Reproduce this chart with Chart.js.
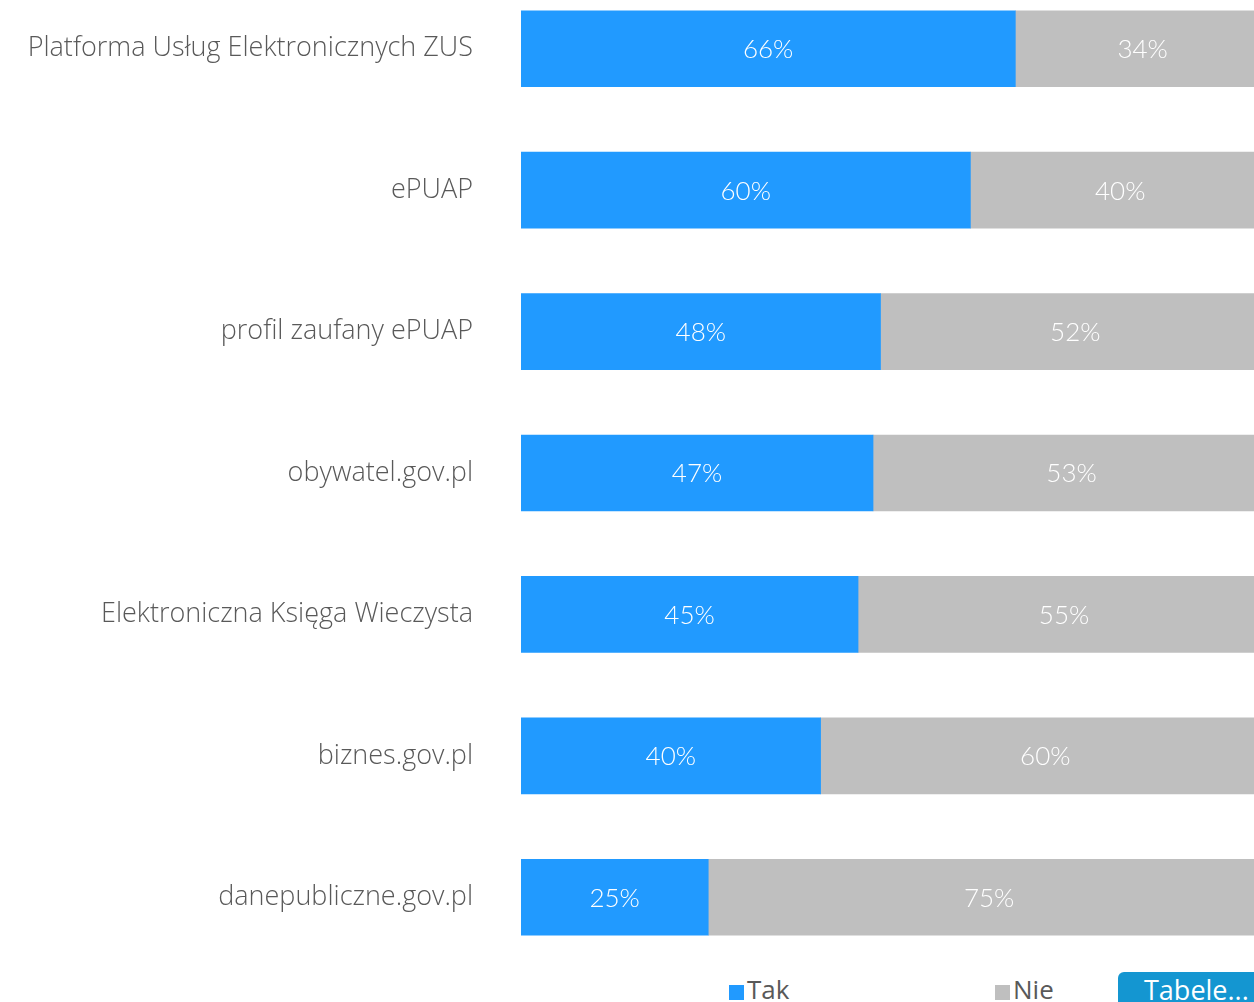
<!DOCTYPE html>
<html>
<head>
<meta charset="utf-8">
<script src="https://cdn.jsdelivr.net/npm/chart.js@4"></script>
<style>
  html, body { margin: 0; padding: 0; width: 1254px; height: 1002px; overflow: hidden; background: #fff; }
  #wrap { position: absolute; left: 0; top: -22px; width: 1270px; height: 990px; }
  #legend { position: absolute; top: 971px; left: 0; width: 1254px; height: 30px; font-family: "Open Sans", Lato, sans-serif; font-size: 26px; color: #595959; }
  .lg { position: absolute; top: 0; display: flex; align-items: center; white-space: nowrap; }
  .lg .sw { width: 15px; height: 15px; margin-right: 3px; margin-top: 6px; }
  #tabele { position: absolute; left: 1118px; top: 972px; width: 150px; height: 40px; background: #1496D1; border-radius: 6px 6px 0 0; color: #fff; font-family: "Open Sans", Lato, sans-serif; font-size: 27px; padding-left: 26px; box-sizing: border-box; line-height: 36px; }
</style>
</head>
<body>
<div id="wrap"><canvas id="c"></canvas></div>
<div id="legend"></div>
<div id="tabele">Tabele...</div>
<script>
const categories = [
  'Platforma Usług Elektronicznych ZUS',
  'ePUAP',
  'profil zaufany ePUAP',
  'obywatel.gov.pl',
  'Elektroniczna Księga Wieczysta',
  'biznes.gov.pl',
  'danepubliczne.gov.pl'
];
const seriesNames = ['Tak', 'Nie'];
const takValues = [66, 60, 48, 47, 45, 40, 25];
const nieValues = [34, 40, 52, 53, 55, 60, 75];
const seriesColors = ['#219AFF', '#BFBFBF'];
const legendX = [729, 995];

const LABEL_FONT = '"Open Sans", Lato, sans-serif';
const VALUE_FONT = 'Lato, "Open Sans", sans-serif';

const barLabels = {
  id: 'barLabels',
  afterDatasetsDraw(chart) {
    const ctx = chart.ctx;
    ctx.save();
    ctx.fillStyle = '#FFFFFF';
    ctx.font = '300 26px ' + VALUE_FONT;
    ctx.textAlign = 'center';
    ctx.textBaseline = 'middle';
    chart.data.datasets.forEach((ds, di) => {
      const meta = chart.getDatasetMeta(di);
      meta.data.forEach((el, i) => {
        const cx = (el.x + el.base) / 2;
        ctx.fillText(ds.data[i] + '%', cx, el.y + 1);
      });
    });
    ctx.restore();
  }
};

const chart = new Chart(document.getElementById('c'), {
  type: 'bar',
  data: {
    labels: categories,
    datasets: [
      { label: seriesNames[0], data: takValues, backgroundColor: seriesColors[0], borderWidth: 0 },
      { label: seriesNames[1], data: nieValues, backgroundColor: seriesColors[1], borderWidth: 0 }
    ]
  },
  options: {
    indexAxis: 'y',
    responsive: true,
    maintainAspectRatio: false,
    animation: false,
    layout: { padding: 0 },
    barThickness: 76,
    scales: {
      x: { stacked: true, min: 0, max: 100, display: false },
      y: {
        stacked: true,
        border: { display: false },
        grid: { display: false, drawTicks: false },
        ticks: { color: '#595959', font: { family: LABEL_FONT, size: 27, weight: '300' }, padding: 48 },
        afterFit(scale) { scale.width = 521; scale.paddingTop = 0; scale.paddingBottom = 0; }
      }
    },
    plugins: { legend: { display: false }, tooltip: { enabled: false } }
  },
  plugins: [barLabels]
});

const legend = document.getElementById('legend');
chart.data.datasets.forEach((ds, i) => {
  const item = document.createElement('div');
  item.className = 'lg';
  item.style.left = legendX[i] + 'px';
  const sw = document.createElement('div');
  sw.className = 'sw';
  sw.style.background = ds.backgroundColor;
  const tx = document.createElement('span');
  tx.textContent = ds.label;
  item.appendChild(sw);
  item.appendChild(tx);
  legend.appendChild(item);
});
</script>
</body>
</html>
